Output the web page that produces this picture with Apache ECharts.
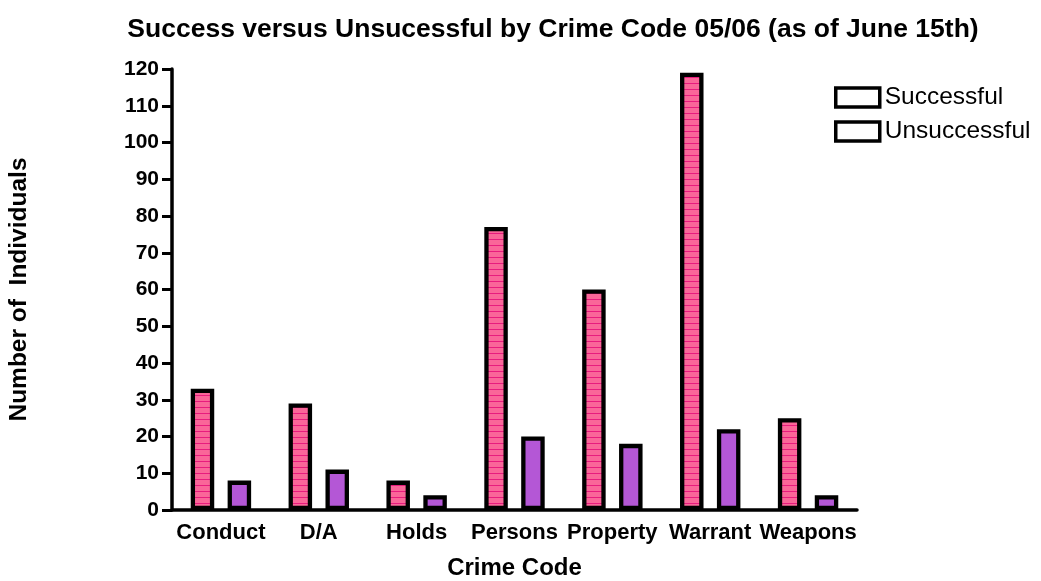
<!DOCTYPE html>
<html>
<head>
<meta charset="utf-8">
<script src="https://cdn.jsdelivr.net/npm/echarts@6/dist/echarts.min.js"></script>
<style>
html,body{margin:0;padding:0;background:#fff;}
#chart{width:1041px;height:581px;}
</style>
</head>
<body>
<div id="chart"></div>
<script>
var categories = ['Conduct', 'D/A', 'Holds', 'Persons', 'Property', 'Warrant', 'Weapons'];
var successful = [33, 29, 8, 77, 60, 119, 25];
var unsuccessful = [8, 11, 4, 20, 18, 22, 4];
var yTicks = [0, 10, 20, 30, 40, 50, 60, 70, 80, 90, 100, 110, 120];

var pc = document.createElement('canvas');
pc.width = 4; pc.height = 6;
var ctx = pc.getContext('2d');
ctx.fillStyle = '#FA6699';
ctx.fillRect(0, 0, 4, 6);
ctx.fillStyle = '#E81C7E';
ctx.fillRect(0, 5, 4, 1);

var font = 'Liberation Sans, Arial, Helvetica, sans-serif';
var chart = echarts.init(document.getElementById('chart'), null, {renderer: 'canvas'});
chart.setOption({
  animation: false,
  backgroundColor: '#fff',
  title: {
    text: 'Success versus Unsucessful by Crime Code 05/06 (as of June 15th)',
    left: 548, top: 11, textAlign: 'center',
    textStyle: {fontFamily: font, fontWeight: 'bold', fontSize: 26.5, color: '#000'}
  },
  legend: {
    orient: 'vertical', left: 829, top: 80, itemGap: 9,
    itemWidth: 44, itemHeight: 19, icon: 'rect',
    itemStyle: {color: '#fff', borderColor: '#000', borderWidth: 3.5},
    textStyle: {fontFamily: font, fontSize: 24.5, color: '#000'},
    data: ['Successful', 'Unsuccessful']
  },
  grid: {left: 172, right: 184, top: 69, bottom: 71, containLabel: false, outerBoundsMode: 'none'},
  xAxis: {
    type: 'category', data: categories,
    name: 'Crime Code', nameLocation: 'middle', nameGap: 46,
    nameTextStyle: {fontFamily: font, fontWeight: 'bold', fontSize: 24, color: '#000'},
    axisLine: {lineStyle: {color: '#000', width: 3.5}},
    axisTick: {alignWithLabel: true, length: 9, lineStyle: {width: 3, color: '#000'}},
    axisLabel: {interval: 0, margin: 12, fontFamily: font, fontWeight: 'bold', fontSize: 22, color: '#000'}
  },
  yAxis: {
    type: 'value', min: 0, max: 120, interval: 10,
    name: 'Number of  Individuals', nameLocation: 'middle', nameGap: 140,
    nameTextStyle: {fontFamily: font, fontWeight: 'bold', fontSize: 24.5, color: '#000'},
    axisLine: {show: true, lineStyle: {color: '#000', width: 3.5}},
    axisTick: {show: true, length: 10, lineStyle: {width: 3, color: '#000'}},
    splitLine: {show: false},
    axisLabel: {margin: 13, fontFamily: font, fontWeight: 'bold', fontSize: 21, color: '#000',
      formatter: function (v) { return yTicks.indexOf(v) >= 0 ? String(v) : ''; }}
  },
  series: [
    {
      name: 'Successful', type: 'bar', data: successful,
      barWidth: 23.5, barGap: '57%',
      itemStyle: {color: {image: pc, repeat: 'repeat'}, borderColor: '#000', borderWidth: 4.3}
    },
    {
      name: 'Unsuccessful', type: 'bar', data: unsuccessful,
      barWidth: 23.5,
      itemStyle: {color: '#B457D6', borderColor: '#000', borderWidth: 4.3}
    }
  ]
});
</script>
</body>
</html>
